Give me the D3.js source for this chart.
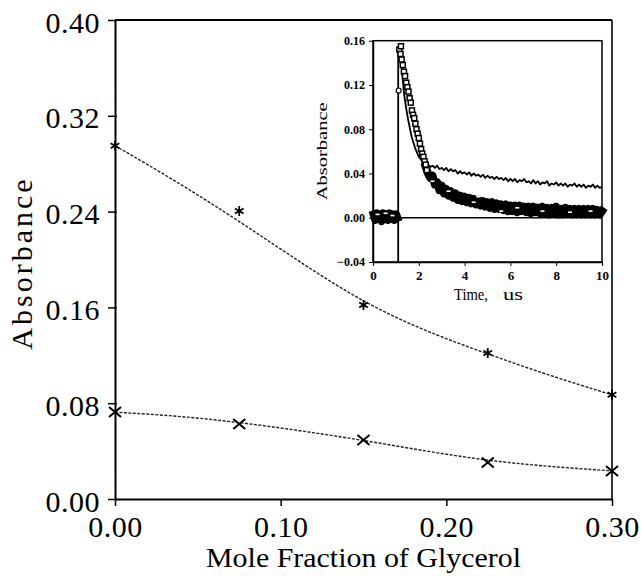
<!DOCTYPE html>
<html>
<head>
<meta charset="utf-8">
<script src="https://cdn.jsdelivr.net/npm/d3@7"></script>
<style>
body { margin: 0; background: #fff; }
</style>
</head>
<body>
<div id="chart"></div>
<script>
// main plot data
const glycerol = [0, 0.075, 0.15, 0.225, 0.30];
const absHigh = [0.295, 0.2405, 0.162, 0.122, 0.087];
const absLow = [0.0727, 0.0626, 0.0493, 0.0305, 0.0234];
const fitX = [0, 0.0375, 0.075, 0.1125, 0.15, 0.1875, 0.225, 0.2625, 0.30];
const fitHigh = [0.295, 0.265, 0.232, 0.197, 0.164, 0.140, 0.121, 0.103, 0.087];
const fitLow = [0.0725, 0.0695, 0.0640, 0.0570, 0.0490, 0.0400, 0.0320, 0.0270, 0.0235];
const yTicks = [0, 0.08, 0.16, 0.24, 0.32, 0.40];
const xTicks = [0, 0.10, 0.20, 0.30];

// inset data (time in us, absorbance)
const insetXTicks = [0, 2, 4, 6, 8, 10];
const insetYTicks = [-0.04, 0, 0.04, 0.08, 0.12, 0.16];
const traceSolid = [
  [1.1, -0.04], [1.1, 0.152], [1.18, 0.156], [1.25, 0.137], [1.35, 0.113], [1.44, 0.100],
  [1.54, 0.088], [1.69, 0.073], [1.84, 0.063], [2.0, 0.055], [2.2, 0.050], [2.4, 0.048],
  [2.5, 0.046], [2.6, 0.047], [2.7, 0.045], [2.8, 0.047], [2.9, 0.044], [3.0, 0.045],
  [3.1, 0.043], [3.2, 0.045], [3.3, 0.042], [3.4, 0.044], [3.5, 0.042], [3.6, 0.043],
  [3.7, 0.040], [3.8, 0.042], [3.9, 0.040], [4.0, 0.041], [4.1, 0.039], [4.2, 0.041],
  [4.3, 0.038], [4.4, 0.040], [4.5, 0.038], [4.6, 0.039], [4.7, 0.037], [4.8, 0.039],
  [4.9, 0.036], [5.0, 0.038], [5.1, 0.036], [5.2, 0.037], [5.3, 0.035], [5.4, 0.037],
  [5.5, 0.035], [5.6, 0.036], [5.7, 0.034], [5.8, 0.036], [5.9, 0.033], [6.0, 0.035],
  [6.1, 0.033], [6.2, 0.035], [6.3, 0.032], [6.4, 0.034], [6.5, 0.033], [6.6, 0.035],
  [6.7, 0.032], [6.8, 0.033], [6.9, 0.031], [7.0, 0.034], [7.1, 0.031], [7.2, 0.033],
  [7.3, 0.030], [7.4, 0.032], [7.5, 0.031], [7.6, 0.033], [7.7, 0.029], [7.8, 0.031],
  [7.9, 0.030], [8.0, 0.032], [8.1, 0.029], [8.2, 0.031], [8.3, 0.029], [8.4, 0.031],
  [8.5, 0.028], [8.6, 0.030], [8.7, 0.029], [8.8, 0.031], [8.9, 0.028], [9.0, 0.030],
  [9.1, 0.028], [9.2, 0.030], [9.3, 0.027], [9.4, 0.029], [9.5, 0.028], [9.6, 0.030],
  [9.7, 0.027], [9.8, 0.029], [9.9, 0.027], [10, 0.028]
];
const traceSquares = [
  [1.15, 0.152], [1.2, 0.148], [1.22, 0.155], [1.25, 0.143], [1.3, 0.138], [1.35, 0.132],
  [1.4, 0.128], [1.45, 0.122], [1.5, 0.118], [1.55, 0.114], [1.6, 0.108], [1.65, 0.104],
  [1.7, 0.097], [1.75, 0.093], [1.8, 0.090], [1.85, 0.085], [1.9, 0.080], [1.95, 0.076],
  [2.0, 0.072], [2.05, 0.067], [2.1, 0.062], [2.15, 0.058], [2.2, 0.055], [2.25, 0.051],
  [2.3, 0.048], [2.35, 0.043]
];
const traceBand = [
  [2.3, 0.046], [2.4, 0.040], [2.5, 0.036], [2.6, 0.038], [2.7, 0.030], [2.8, 0.032], [2.9, 0.025],
  [3.0, 0.029], [3.1, 0.022], [3.2, 0.026], [3.3, 0.020], [3.4, 0.024], [3.5, 0.018],
  [3.6, 0.022], [3.7, 0.016], [3.8, 0.020], [3.9, 0.015], [4.0, 0.019], [4.1, 0.014],
  [4.2, 0.018], [4.3, 0.013], [4.4, 0.017], [4.5, 0.012], [4.6, 0.016], [4.7, 0.011],
  [4.8, 0.015], [4.9, 0.010], [5.0, 0.014], [5.1, 0.009], [5.2, 0.014], [5.3, 0.008],
  [5.4, 0.013], [5.5, 0.008], [5.6, 0.012], [5.7, 0.007], [5.8, 0.012], [5.9, 0.006],
  [6.0, 0.011], [6.1, 0.006], [6.2, 0.011], [6.3, 0.005], [6.4, 0.011], [6.5, 0.006],
  [6.6, 0.010], [6.7, 0.005], [6.8, 0.010], [6.9, 0.004], [7.0, 0.010], [7.1, 0.005],
  [7.2, 0.009], [7.3, 0.004], [7.4, 0.010], [7.5, 0.004], [7.6, 0.009], [7.7, 0.003],
  [7.8, 0.009], [7.9, 0.004], [8.0, 0.010], [8.1, 0.003], [8.2, 0.008], [8.3, 0.003],
  [8.4, 0.009], [8.5, 0.004], [8.6, 0.008], [8.7, 0.003], [8.8, 0.008], [8.9, 0.003],
  [9.0, 0.008], [9.1, 0.003], [9.2, 0.008], [9.3, 0.003], [9.4, 0.008], [9.5, 0.003],
  [9.6, 0.008], [9.7, 0.003], [9.8, 0.007], [9.9, 0.003], [10.0, 0.006]
];
const bandSpecks = [
  [2.6, 0.033], [3.3, 0.024], [4.4, 0.014], [4.6, 0.019], [5.6, 0.006], [6.3, 0.009],
  [7.4, 0.006], [8.6, 0.005], [9.5, 0.006]
];
const preTrigger = [
  [0.03, 0.003], [0.1, -0.002], [0.17, 0.004], [0.24, -0.001], [0.31, 0.003], [0.38, -0.003],
  [0.45, 0.004], [0.52, 0.000], [0.59, 0.003], [0.66, -0.002], [0.73, 0.004], [0.8, -0.001],
  [0.87, 0.003], [0.94, -0.002], [1.01, 0.003], [1.06, 0.000]
];
const preSpecks = [[0.2, 0.003], [0.55, 0.004], [0.85, 0.002]];
const circlePts = [[1.12, 0.115]];

const W = 641, H = 576;
const font = "'Liberation Serif', 'Times New Roman', serif";

const svg = d3.select("#chart")
  .append("svg")
  .attr("width", W)
  .attr("height", H)
  .style("background", "#fff");

// ---------- main plot ----------
const x = d3.scaleLinear().domain([0, 0.30]).range([115, 612]);
const y = d3.scaleLinear().domain([0, 0.40]).range([499, 20]);

// frame top + right
svg.append("line")
  .attr("x1", x(0)).attr("x2", x(0.30))
  .attr("y1", y(0.40)).attr("y2", y(0.40))
  .attr("stroke", "#000").attr("stroke-width", 1.8);
svg.append("line")
  .attr("x1", x(0.30)).attr("x2", x(0.30))
  .attr("y1", y(0.40)).attr("y2", y(0))
  .attr("stroke", "#000").attr("stroke-width", 1.6);

const yAxis = svg.append("g")
  .attr("transform", `translate(${x(0)},0)`)
  .call(d3.axisLeft(y).tickValues(yTicks).tickFormat(d3.format(".2f"))
    .tickSize(7).tickSizeOuter(0).tickPadding(8));
yAxis.select(".domain").attr("stroke-width", 2);
yAxis.selectAll(".tick line").attr("x2", -7).attr("x1", 2).attr("stroke-width", 1.5);
yAxis.selectAll(".tick text")
  .attr("dy", "0.4em")
  .style("font-family", font)
  .style("font-size", "30px")
  .style("letter-spacing", "0.5px")
  .attr("fill", "#000");

const xAxis = svg.append("g")
  .attr("transform", `translate(0,${y(0)})`)
  .call(d3.axisBottom(x).tickValues(xTicks).tickFormat(d3.format(".2f"))
    .tickSize(7).tickSizeOuter(0).tickPadding(10));
xAxis.select(".domain").attr("stroke-width", 2);
xAxis.selectAll(".tick line").attr("stroke-width", 1.5);
xAxis.selectAll(".tick text")
  .style("font-family", font)
  .style("font-size", "30px")
  .style("letter-spacing", "0.5px")
  .attr("fill", "#000");

svg.append("text")
  .attr("x", (x(0) + x(0.30)) / 2)
  .attr("y", 567)
  .attr("text-anchor", "middle")
  .attr("textLength", 315)
  .attr("lengthAdjust", "spacingAndGlyphs")
  .style("font-family", font)
  .style("font-size", "28px")
  .text("Mole Fraction of Glycerol");

svg.append("text")
  .attr("transform", "translate(32,263) rotate(-90)")
  .attr("text-anchor", "middle")
  .style("font-family", font)
  .style("font-size", "30px")
  .style("letter-spacing", "3px")
  .text("Absorbance");

// fitted curves
const fitLine = d3.line()
  .x(d => x(d[0]))
  .y(d => y(d[1]))
  .curve(d3.curveBasis);

[fitHigh, fitLow].forEach(series => {
  svg.append("path")
    .datum(fitX.map((v, i) => [v, series[i]]))
    .attr("d", fitLine)
    .attr("fill", "none")
    .attr("stroke", "#222")
    .attr("stroke-width", 1.4)
    .attr("stroke-dasharray", "3,1.5");
});

// asterisk markers (upper series)
const star = r => {
  let p = "";
  for (let k = 0; k < 3; k++) {
    const a = Math.PI / 2 + k * Math.PI / 3;
    p += `M${r * Math.cos(a)},${r * Math.sin(a)}L${-r * Math.cos(a)},${-r * Math.sin(a)}`;
  }
  return p;
};
svg.append("g")
  .selectAll("path")
  .data(glycerol.map((v, i) => [v, absHigh[i]]))
  .enter()
  .append("path")
  .attr("transform", d => `translate(${x(d[0])},${y(d[1])})`)
  .attr("d", star(5))
  .attr("stroke", "#000")
  .attr("stroke-width", 1.8);

// X markers (lower series)
svg.append("g")
  .selectAll("path")
  .data(glycerol.map((v, i) => [v, absLow[i]]))
  .enter()
  .append("path")
  .attr("transform", d => `translate(${x(d[0])},${y(d[1])})`)
  .attr("d", "M-6,-5L6,5M-6,5L6,-5")
  .attr("stroke", "#000")
  .attr("stroke-width", 2);

// ---------- inset ----------
const ix = d3.scaleLinear().domain([0, 10]).range([373, 602]);
const iy = d3.scaleLinear().domain([-0.04, 0.16]).range([262, 40.7]);

const inset = svg.append("g");

inset.append("rect")
  .attr("x", ix(0)).attr("y", iy(0.16))
  .attr("width", ix(10) - ix(0)).attr("height", iy(-0.04) - iy(0.16))
  .attr("fill", "none")
  .attr("stroke", "#000")
  .attr("stroke-width", 1.5);

const iyAxis = inset.append("g")
  .attr("transform", `translate(${ix(0)},0)`)
  .call(d3.axisLeft(iy).tickValues(insetYTicks).tickFormat(d3.format(".2f"))
    .tickSize(4).tickSizeOuter(0).tickPadding(4));
iyAxis.select(".domain").attr("stroke-width", 1.5);
iyAxis.selectAll(".tick text")
  .text(d => d < 0 ? "\u2212" + d3.format(".2f")(-d) : d3.format(".2f")(d))
  .style("font-family", font)
  .style("font-size", "12px")
  .style("font-weight", "bold")
  .attr("fill", "#000");

const ixAxis = inset.append("g")
  .attr("transform", `translate(0,${iy(-0.04)})`)
  .call(d3.axisBottom(ix).tickValues(insetXTicks).tickFormat(d3.format("d"))
    .tickSize(4).tickSizeOuter(0).tickPadding(5));
ixAxis.select(".domain").attr("stroke-width", 1.5);
ixAxis.selectAll(".tick text")
  .style("font-family", font)
  .style("font-size", "13px")
  .style("font-weight", "bold")
  .attr("fill", "#000");

inset.append("text")
  .attr("transform", `translate(327,${(iy(0.16) + iy(-0.04)) / 2}) rotate(-90)`)
  .attr("text-anchor", "middle")
  .attr("textLength", 98)
  .attr("lengthAdjust", "spacingAndGlyphs")
  .style("font-family", font)
  .style("font-size", "15px")
  .text("Absorbance");

inset.append("text")
  .attr("x", 454).attr("y", 300)
  .attr("textLength", 34)
  .attr("lengthAdjust", "spacingAndGlyphs")
  .style("font-family", font)
  .style("font-size", "17px")
  .text("Time,");
inset.append("text")
  .attr("x", 503).attr("y", 300)
  .attr("textLength", 20)
  .attr("lengthAdjust", "spacingAndGlyphs")
  .style("font-family", font)
  .style("font-size", "17px")
  .text("us");

// zero line
inset.append("line")
  .attr("x1", ix(1.1)).attr("x2", ix(10))
  .attr("y1", iy(0)).attr("y2", iy(0))
  .attr("stroke", "#000").attr("stroke-width", 1.3);

const tLine = d3.line().x(d => ix(d[0])).y(d => iy(d[1]));

inset.append("path")
  .datum(traceSolid)
  .attr("d", tLine)
  .attr("fill", "none")
  .attr("stroke", "#000")
  .attr("stroke-width", 1.8)
  .attr("stroke-linejoin", "round");

// dense square data drawn as a thick band
[traceBand, preTrigger].forEach(band => {
  inset.append("path")
    .datum(band)
    .attr("d", tLine)
    .attr("fill", "none")
    .attr("stroke", "#000")
    .attr("stroke-width", 8)
    .attr("stroke-linejoin", "round")
    .attr("stroke-linecap", "square");
});

// small white flecks inside the dense bands
inset.append("g")
  .selectAll("rect")
  .data(bandSpecks.concat(preSpecks))
  .enter()
  .append("rect")
  .attr("x", d => ix(d[0]) - 2)
  .attr("y", d => iy(d[1]) - 0.8)
  .attr("width", 4)
  .attr("height", 1.6)
  .attr("fill", "#fff");

inset.append("g")
  .selectAll("rect.sq")
  .data(traceSquares)
  .enter()
  .append("rect")
  .attr("class", "sq")
  .attr("x", d => ix(d[0]) - 2.5)
  .attr("y", d => iy(d[1]) - 2.5)
  .attr("width", 5)
  .attr("height", 5)
  .attr("fill", "#fff")
  .attr("stroke", "#000")
  .attr("stroke-width", 1.5);

inset.append("g")
  .selectAll("circle")
  .data(circlePts)
  .enter()
  .append("circle")
  .attr("cx", d => ix(d[0]))
  .attr("cy", d => iy(d[1]))
  .attr("r", 2.5)
  .attr("fill", "#fff")
  .attr("stroke", "#000")
  .attr("stroke-width", 1.2);
</script>
</body>
</html>
